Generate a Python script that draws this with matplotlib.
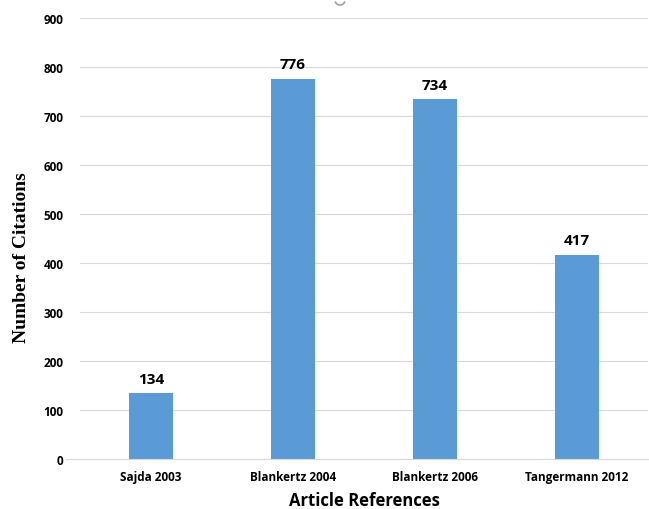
import matplotlib.pyplot as plt
from matplotlib.patches import Arc

# data
articles = ['Sajda 2003', 'Blankertz 2004', 'Blankertz 2006', 'Tangermann 2012']
citations = [134, 776, 734, 417]
yticks = [0, 100, 200, 300, 400, 500, 600, 700, 800, 900]

plt.rcParams['font.family'] = ['Open Sans', 'DejaVu Sans']

fig = plt.figure(figsize=(6.49, 5.10), dpi=100)
ax = fig.add_axes([80 / 649, 50 / 510, 568 / 649, 441 / 510])

x = range(len(articles))
bars = ax.bar(x, citations, width=0.31, color='#5b9bd5', zorder=3)
for b, v in zip(bars, citations):
    ax.text(b.get_x() + b.get_width() / 2, v + 15, str(v), ha='center', va='bottom',
            fontsize=11, fontweight='bold', color='#000000')

ax.set_xlim(-0.5, len(articles) - 0.5)
ax.set_ylim(0, 900)
ax.set_yticks(yticks)
ax.set_xticks(list(x))
ax.set_xticklabels(articles, fontsize=8.5, fontweight='bold')
for lab in ax.get_yticklabels():
    lab.set_fontsize(8.5)
    lab.set_fontweight('bold')
ax.tick_params(axis='both', length=0)
ax.tick_params(axis='y', pad=12)
ax.tick_params(axis='x', pad=8)

ax.grid(axis='y', color='#d9d9d9', linewidth=0.8, zorder=0)
for s in ['top', 'right', 'left']:
    ax.spines[s].set_visible(False)
ax.spines['bottom'].set_color('#d9d9d9')
ax.spines['bottom'].set_bounds(-0.6, len(articles) - 0.5)
ax.spines['bottom'].set_zorder(4)

ax.set_xlabel('Article References', fontsize=12, fontweight='bold', labelpad=6)
ax.set_ylabel('Number of Citations', fontsize=14, fontweight='bold',
              family='Liberation Serif')
ax.yaxis.set_label_coords(-0.088, 0.46)

# small gray arc artifact at top of the original image
fig.patches.append(Arc((340 / 649, 1 - 1 / 510), 10 / 649, 10 / 510, theta1=200, theta2=340,
                       transform=fig.transFigure, color='#a0a0a0', linewidth=1.2))

plt.savefig('out.png', dpi=100)
